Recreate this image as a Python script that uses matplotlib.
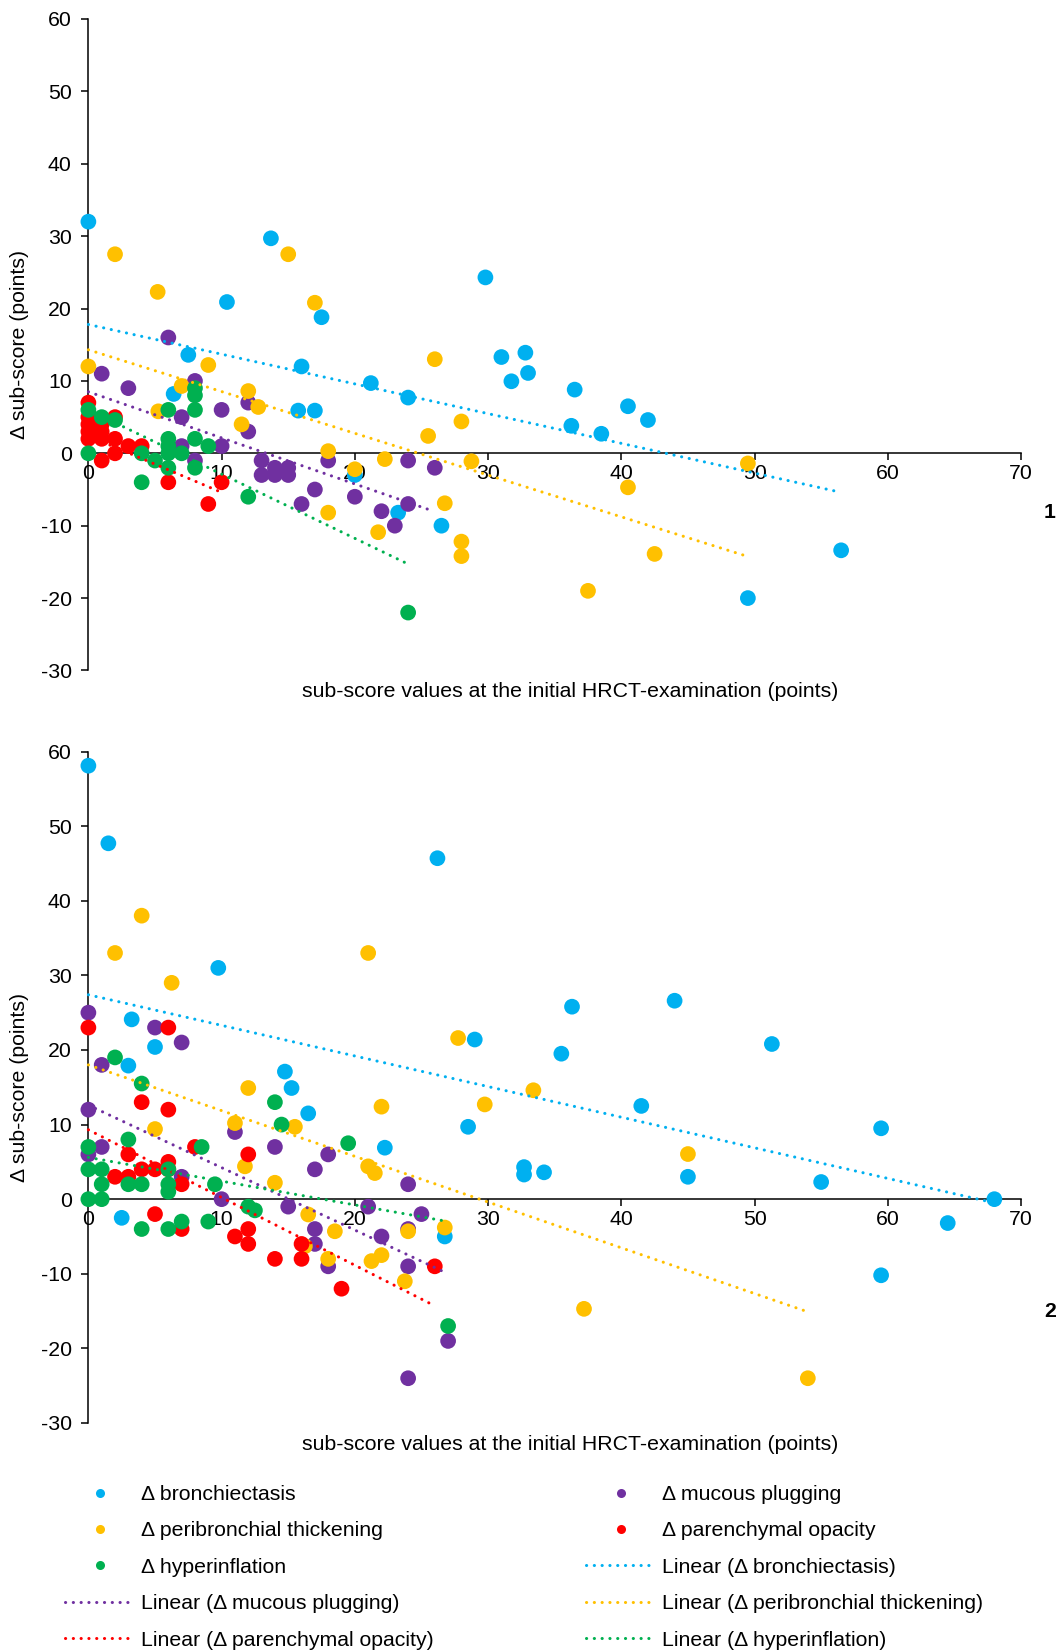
import matplotlib
matplotlib.use("Agg")
import matplotlib.pyplot as plt
from matplotlib.lines import Line2D

plt.rcParams['font.family'] = ['Liberation Sans', 'DejaVu Sans']
plt.rcParams['axes.unicode_minus'] = False

# ---------------- DATA: panel 1 ----------------
p1_bronch_x = [0, 13.7, 10.4, 29.8, 17.5, 16, 7.5, 6.4, 21.2, 24, 15.75, 17, 20, 23.25, 26.5,
               31, 32.8, 31.75, 33, 36.5, 36.25, 38.5, 40.5, 42, 49.5, 56.5]
p1_bronch_y = [32, 29.7, 20.9, 24.3, 18.8, 12, 13.6, 8.2, 9.7, 7.7, 5.9, 5.9, -3, -8.2, -10,
               13.3, 13.9, 9.95, 11.1, 8.8, 3.8, 2.7, 6.5, 4.6, -20, -13.4]

p1_mucous_x = [6, 1, 3, 8, 10, 12, 12, 7, 7, 10, 8, 13, 13, 14, 14, 15, 15, 18, 24, 26, 17, 16, 20, 22, 24, 23]
p1_mucous_y = [16, 11, 9, 10, 6, 7, 3, 5, 1, 1, -1, -1, -3, -2, -3, -2, -3, -1, -1, -2, -5, -7, -6, -8, -7, -10]

p1_peri_x = [2, 15, 5.2, 17, 9, 0, 7, 12, 12.75, 5.25, 11.5, 26, 28, 25.5, 18, 22.25, 28.75, 20,
             26.75, 18, 21.75, 28, 28, 40.5, 49.5, 42.5, 37.5]
p1_peri_y = [27.5, 27.5, 22.3, 20.8, 12.2, 12, 9.3, 8.6, 6.4, 5.8, 4.0, 13, 4.4, 2.4, 0.3, -0.8, -1.1, -2.2,
             -6.9, -8.2, -10.9, -12.2, -14.2, -4.7, -1.4, -13.9, -19]

p1_paren_x = [0, 0, 0, 0, 0, 1, 1, 1, 1, 2, 2, 2, 3, 4, 6, 9, 10]
p1_paren_y = [7, 5, 4, 3, 2, 4, 3, 2, -1, 5, 2, 0, 1, 1, -4, -7, -4]

p1_hyper_x = [0, 1, 2, 8, 8, 8, 6, 6, 8, 9, 6, 6, 7, 5, 4, 6, 8, 0, 4, 12, 24]
p1_hyper_y = [6, 5, 4.6, 9, 8, 6, 6, 2, 2, 1, 1, 0, 0, -1, 0, -2, -2, 0, -4, -6, -22]

# trend lines (linear fits as drawn): start/end x and y
p1_trend_x0 = [0, 0, 0, 0, 0]
p1_trend_x1 = [56.5, 25.6, 49.4, 10, 24]
p1_trend_y0 = [17.8, 8.5, 14.3, 2.4, 6.0]
p1_trend_y1 = [-5.4, -7.8, -14.2, -5.4, -15.3]

# ---------------- DATA: panel 2 ----------------
p2_bronch_x = [0, 1.5, 26.2, 9.75, 3.25, 5, 3, 14.75, 15.25, 16.5, 22.25, 28.5, 29, 26.75, 2.5,
               36.3, 44, 35.5, 51.3, 41.5, 59.5, 32.7, 32.7, 34.2, 45, 55, 68, 64.5, 59.5]
p2_bronch_y = [58.1, 47.7, 45.7, 31, 24.1, 20.4, 17.9, 17.1, 14.9, 11.5, 6.9, 9.7, 21.4, -5.0, -2.5,
               25.8, 26.6, 19.5, 20.8, 12.5, 9.5, 4.3, 3.3, 3.6, 3.0, 2.3, 0, -3.2, -10.2]

p2_mucous_x = [0, 5, 7, 1, 0, 11, 14, 1, 0, 7, 10, 15, 18, 17, 24, 21, 25, 17, 17, 22, 24, 18, 24, 27, 24]
p2_mucous_y = [25, 23, 21, 18, 12, 9, 7, 7, 6, 3, 0, -1, 6, 4, 2, -1, -2, -4, -6, -5, -4, -9, -9, -19, -24]

p2_peri_x = [2, 4, 6.25, 21, 12, 5, 11, 11.75, 14, 15.5, 22, 29.75, 27.75, 21, 21.5, 16.5, 18.5, 24,
             26.75, 16.25, 18, 21.25, 22, 23.75, 33.4, 45, 37.2, 54]
p2_peri_y = [33, 38, 29, 33, 14.9, 9.4, 10.2, 4.4, 2.2, 9.7, 12.4, 12.7, 21.6, 4.4, 3.5, -2.05, -4.3, -4.3,
             -3.8, -6.3, -8, -8.3, -7.5, -11, 14.6, 6.05, -14.7, -24]

p2_paren_x = [0, 6, 4, 6, 8, 12, 3, 6, 2, 3, 4, 5, 6, 7, 5, 7, 11, 12, 12, 14, 16, 16, 19, 26]
p2_paren_y = [23, 23, 13, 12, 7, 6, 6, 5, 3, 3, 4, 4, 4, 2, -2, -4, -5, -4, -6, -8, -6, -8, -12, -9]

p2_hyper_x = [2, 4, 14, 14.5, 3, 8.5, 0, 0, 1, 1, 3, 4, 6, 6, 6, 9.5, 0, 1, 12, 12.5, 4, 6, 7, 9, 19.5, 27]
p2_hyper_y = [19, 15.5, 13, 10, 8, 7, 7, 4, 4, 2, 2, 2, 4, 2, 1, 2, 0, 0, -1, -1.5, -4, -4, -3, -3, 7.5, -17]

p2_trend_x0 = [0, 0, 0, 0, 0]
p2_trend_x1 = [68, 27, 54, 26, 27]
p2_trend_y0 = [27.4, 12.6, 18.0, 9.3, 5.6]
p2_trend_y1 = [-0.5, -10.0, -15.1, -14.3, -3.0]

# ---------------- labels / styling ----------------
series_names = ['bronchiectasis', 'mucous plugging', 'peribronchial thickening',
                'parenchymal opacity', 'hyperinflation']
series_colors = ['#00B0F0', '#7030A0', '#FFC000', '#FF0000', '#00B050']
x_ticks = [0, 10, 20, 30, 40, 50, 60, 70]
y_ticks = [-30, -20, -10, 0, 10, 20, 30, 40, 50, 60]
xlabel = 'sub-score values at the initial HRCT-examination (points)'
ylabel = '\u0394 sub-score (points)'

FS = 15.3
DOT = (0, (0.05, 2.5))

fig = plt.figure(figsize=(10.61, 16.51), dpi=100)

panels = [
    dict(rect=[0.0833, 0.5939, 0.879, 0.3946],
         xs=[p1_bronch_x, p1_mucous_x, p1_peri_x, p1_paren_x, p1_hyper_x],
         ys=[p1_bronch_y, p1_mucous_y, p1_peri_y, p1_paren_y, p1_hyper_y],
         tx0=p1_trend_x0, tx1=p1_trend_x1, ty0=p1_trend_y0, ty1=p1_trend_y1,
         num='1', num_y=1 - 513 / 1651, xl_y=1 - 691.5 / 1651),
    dict(rect=[0.0833, 0.1381, 0.879, 0.4067],
         xs=[p2_bronch_x, p2_mucous_x, p2_peri_x, p2_paren_x, p2_hyper_x],
         ys=[p2_bronch_y, p2_mucous_y, p2_peri_y, p2_paren_y, p2_hyper_y],
         tx0=p2_trend_x0, tx1=p2_trend_x1, ty0=p2_trend_y0, ty1=p2_trend_y1,
         num='2', num_y=1 - 1311.5 / 1651, xl_y=1 - 1444 / 1651),
]

for p in panels:
    ax = fig.add_axes(p['rect'])
    for x, y, c in zip(p['xs'], p['ys'], series_colors):
        ax.scatter(x, y, s=128, color=c, edgecolors='none', clip_on=False, zorder=3)
    for i, c in enumerate(series_colors):
        ax.plot([p['tx0'][i], p['tx1'][i]], [p['ty0'][i], p['ty1'][i]], color=c,
                linewidth=2.2, linestyle=DOT, dash_capstyle='round', zorder=4, clip_on=False)
    ax.set_xlim(0, 70)
    ax.set_ylim(-30, 60)
    ax.set_xticks(x_ticks)
    ax.set_yticks(y_ticks)
    ax.spines['top'].set_visible(False)
    ax.spines['right'].set_visible(False)
    ax.spines['bottom'].set_position(('data', 0))
    ax.spines['bottom'].set_zorder(2)
    for s in ['left', 'bottom']:
        ax.spines[s].set_linewidth(1.1)
    ax.tick_params(axis='both', direction='out', length=5, width=1.1, labelsize=FS)
    ax.tick_params(axis='x', pad=3)
    ax.tick_params(axis='y', pad=7)
    ax.patch.set_alpha(0)
    b = ax.get_position()
    fig.text(570 / 1061, p['xl_y'], xlabel, ha='center', va='center', fontsize=FS)
    fig.text(20 / 1061, b.y0 + b.height / 2, ylabel, ha='center', va='center',
             rotation=90, fontsize=FS)
    fig.text(1050 / 1061, p['num_y'], p['num'], ha='center', va='center',
             fontsize=FS, fontweight='bold')

# legend handles
def mk(i):
    return Line2D([], [], linestyle='none', marker='o', markersize=6.5,
                  markerfacecolor=series_colors[i], markeredgecolor='none',
                  label='\u0394 ' + series_names[i])

def ln(i):
    return Line2D([], [], color=series_colors[i], linewidth=2.2, linestyle=DOT,
                  dash_capstyle='round', label='Linear (\u0394 ' + series_names[i] + ')')

col1 = [mk(0), mk(2), mk(4), ln(1), ln(3)]
col2 = [mk(1), mk(3), ln(0), ln(2), ln(4)]

common = dict(loc='upper left', frameon=False, fontsize=FS, handlelength=3.25,
              handletextpad=0.33, labelspacing=0.82, borderpad=0, borderaxespad=0)
fig.legend(handles=col1, bbox_to_anchor=(65 / 1061, 1 - 1485 / 1651), **common)
fig.legend(handles=col2, bbox_to_anchor=(586 / 1061, 1 - 1485 / 1651), **common)

fig.savefig('out.png', dpi=100)
